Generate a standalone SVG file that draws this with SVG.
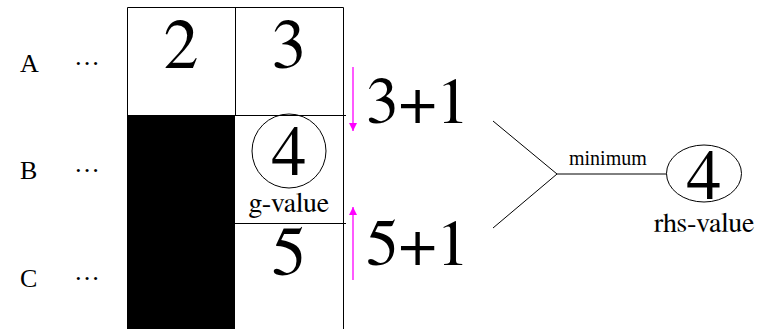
<svg xmlns="http://www.w3.org/2000/svg" width="767" height="329" viewBox="0 0 767 329">
<defs>
<style>
text{fill:#000}
.sm{font-family:"Liberation Serif","Times New Roman",serif}
.bg{font-family:FreeSerif,"Nimbus Roman","Nimbus Roman No9 L","DejaVu Serif",serif}
.d{font-size:70px;text-anchor:middle}
.p{font-size:66px}
.l{font-size:28px;text-anchor:middle}
.ln{stroke:#000;stroke-width:1;fill:none}
.mg{stroke:#ff00ff;stroke-width:1.3;fill:none}
</style>
<marker id="ah" viewBox="0 0 10 10" refX="10" refY="5" markerWidth="13" markerHeight="8" markerUnits="userSpaceOnUse" orient="auto">
<path d="M0,0 L10,5 L0,10 z" fill="#ff00ff"/>
</marker>
</defs>
<rect width="767" height="329" fill="#fff"/>
<g id="rowlabels" class="sm" style="font-size:26px">
<text x="20" y="72">A</text>
<text x="74" y="72">···</text>
<text x="20" y="179">B</text>
<text x="74" y="179">···</text>
<text x="20" y="287">C</text>
<text x="74" y="287">···</text>
</g>
<g id="grid">
<rect x="127" y="115" width="108" height="214" fill="#000"/>
<path class="ln" d="M127.5,329 V7.5 H343.5 V329 M235.5,7.5 V115 M127,115.5 H346 M235,223.5 H346"/>
</g>
<g id="cell-a1"><text class="bg d" x="181" y="68">2</text></g>
<g id="cell-a2"><text class="bg d" x="289" y="68">3</text></g>
<g id="cell-b2">
<circle class="ln" cx="289" cy="151" r="37"/>
<text class="bg d" x="289" y="175">4</text>
<text class="bg l" x="289" y="212">g-value</text>
</g>
<g id="cell-c2"><text class="bg d" x="289" y="275">5</text></g>
<g id="sum1"><text class="bg p" x="366" y="123">3+1</text></g>
<g id="sum2"><text class="bg p" x="366" y="265">5+1</text></g>
<g id="rhs">
<ellipse class="ln" cx="704" cy="173.5" rx="37.5" ry="28.5"/>
<text class="bg d" x="704" y="199">4</text>
<text class="bg l" x="704" y="232">rhs-value</text>
</g>
<g id="connectors">
<line class="mg" x1="353" y1="67" x2="353" y2="131" marker-end="url(#ah)"/>
<line class="mg" x1="353" y1="280" x2="353" y2="207" marker-end="url(#ah)"/>
<path class="ln" d="M493,121 L557,174 L493,228 M557,174 H666.5"/>
<text class="sm" x="569" y="165" style="font-size:20px">minimum</text>
</g>
</svg>
